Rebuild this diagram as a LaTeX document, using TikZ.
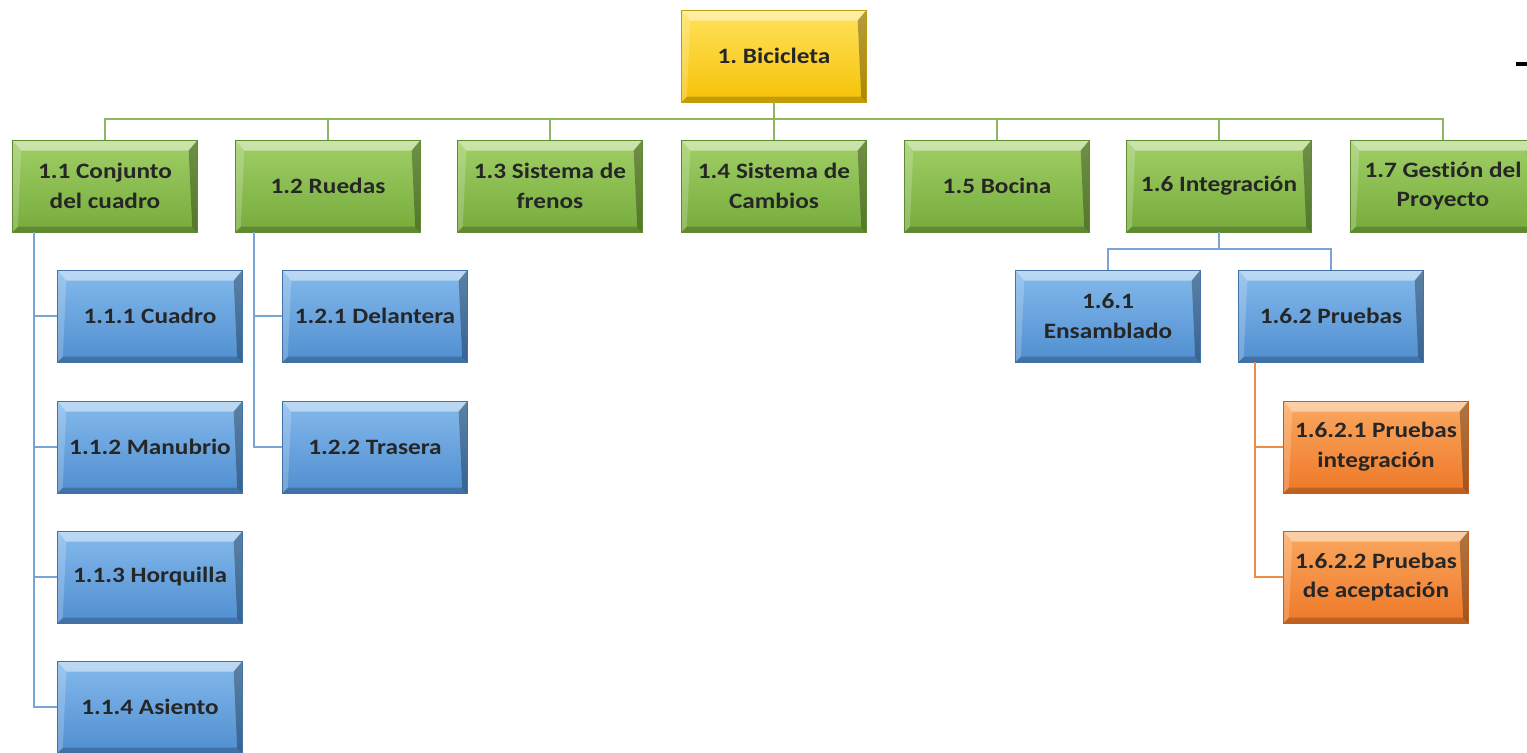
\documentclass[tikz,border=0pt]{standalone}
\usepackage{fontspec}
\setmainfont{Carlito}[FakeStretch=1.15,Ligatures=NoCommon]
\frenchspacing
\definecolor{verdeA}{RGB}{160,206,102}
\definecolor{verdeB}{RGB}{118,172,60}
\definecolor{amarA}{RGB}{255,226,92}
\definecolor{amarB}{RGB}{246,194,8}
\definecolor{azulA}{RGB}{132,186,236}
\definecolor{azulB}{RGB}{80,142,208}
\definecolor{naraA}{RGB}{250,168,96}
\definecolor{naraB}{RGB}{238,120,40}
\definecolor{lverde}{RGB}{140,184,98}
\definecolor{lazul}{RGB}{120,164,214}
\definecolor{lnara}{RGB}{238,140,70}
\tikzset{
  bisel/.style={path picture={
    \fill[white,opacity=.45] (path picture bounding box.north west) -- (path picture bounding box.north east)
      -- ([shift={(-5pt,-6pt)}]path picture bounding box.north east) -- ([shift={(5pt,-6pt)}]path picture bounding box.north west) -- cycle;
    \fill[white,opacity=.2] (path picture bounding box.north west) -- (path picture bounding box.south west)
      -- ([shift={(3pt,3pt)}]path picture bounding box.south west) -- ([shift={(5pt,-6pt)}]path picture bounding box.north west) -- cycle;
    \fill[black,opacity=.3] (path picture bounding box.north east) -- (path picture bounding box.south east)
      -- ([shift={(-3pt,3pt)}]path picture bounding box.south east) -- ([shift={(-5pt,-6pt)}]path picture bounding box.north east) -- cycle;
    \fill[black,opacity=.2] (path picture bounding box.south west) -- (path picture bounding box.south east)
      -- ([shift={(-3pt,3pt)}]path picture bounding box.south east) -- ([shift={(3pt,3pt)}]path picture bounding box.south west) -- cycle;
  }},
  caja/.style={rectangle,minimum width=3.7cm,minimum height=1.84cm,inner sep=0pt,align=center,
    font=\bfseries\fontsize{12.5}{17}\selectfont,text=black!85,bisel},
  raiz/.style={caja,top color=amarA,bottom color=amarB,draw=amarB!80!black,line width=.3pt},
  fase/.style={caja,top color=verdeA,bottom color=verdeB,draw=verdeB!80!black,line width=.3pt},
  parte/.style={caja,top color=azulA,bottom color=azulB,draw=azulB!80!black,line width=.3pt},
  prueba/.style={caja,top color=naraA,bottom color=naraB,draw=naraB!80!black,line width=.3pt},
  lv/.style={draw=lverde,line width=1.6pt},
  la/.style={draw=lazul,line width=1.2pt},
  ln/.style={draw=lnara,line width=1.2pt}
}
\begin{document}
\begin{tikzpicture}[x=0.02cm,y=-0.02cm]
    \clip (0,0) rectangle (1527,752);
    \node[raiz] (bici) at (774,56) {1. Bicicleta};
    \node[fase] (cuadro) at (105,186) {1.1 Conjunto\\del cuadro};
    \node[fase] (ruedas) at (328,186) {1.2 Ruedas};
    \node[fase] (frenos) at (550,186) {1.3 Sistema de\\frenos};
    \node[fase] (cambios) at (774,186) {1.4 Sistema de\\Cambios};
    \node[fase] (bocina) at (997,186) {1.5 Bocina};
    \node[fase] (integ) at (1219,186) {1.6 Integración};
    \node[fase] (gestion) at (1443,186) {1.7 Gestión del\\Proyecto};
    \node[parte] (c1) at (150,316) {1.1.1 Cuadro};
    \node[parte] (c2) at (150,447) {1.1.2 Manubrio};
    \node[parte] (c3) at (150,577) {1.1.3 Horquilla};
    \node[parte] (c4) at (150,707) {1.1.4 Asiento};
    \node[parte] (r1) at (375,316) {1.2.1 Delantera};
    \node[parte] (r2) at (375,447) {1.2.2 Trasera};
    \node[parte] (ens) at (1108,316) {1.6.1\\Ensamblado};
    \node[parte] (prue) at (1331,316) {1.6.2 Pruebas};
    \node[prueba] (p1) at (1376,447) {1.6.2.1 Pruebas\\integración};
    \node[prueba] (p2) at (1376,577) {1.6.2.2 Pruebas\\de aceptación};
    \coordinate (barra) at (0,119);
    \coordinate (barra2) at (0,249);
    \foreach \n in {cuadro,ruedas,frenos,cambios,bocina,integ,gestion}
      \draw[lv] (bici.south) -- (bici.south |- barra) -| (\n.north);
    \foreach \n in {c1,c2,c3,c4}
      \draw[la] ([xshift=0.44cm]cuadro.south west) |- (\n.west);
    \foreach \n in {r1,r2}
      \draw[la] ([xshift=0.38cm]ruedas.south west) |- (\n.west);
    \foreach \n in {ens,prue}
      \draw[la] (integ.south) -- (integ.south |- barra2) -| (\n.north);
    \foreach \n in {p1,p2}
      \draw[ln] ([xshift=0.34cm]prue.south west) |- (\n.west);
    \draw[line width=2pt] (1516,64) -- (1527,64);
\end{tikzpicture}
\end{document}
